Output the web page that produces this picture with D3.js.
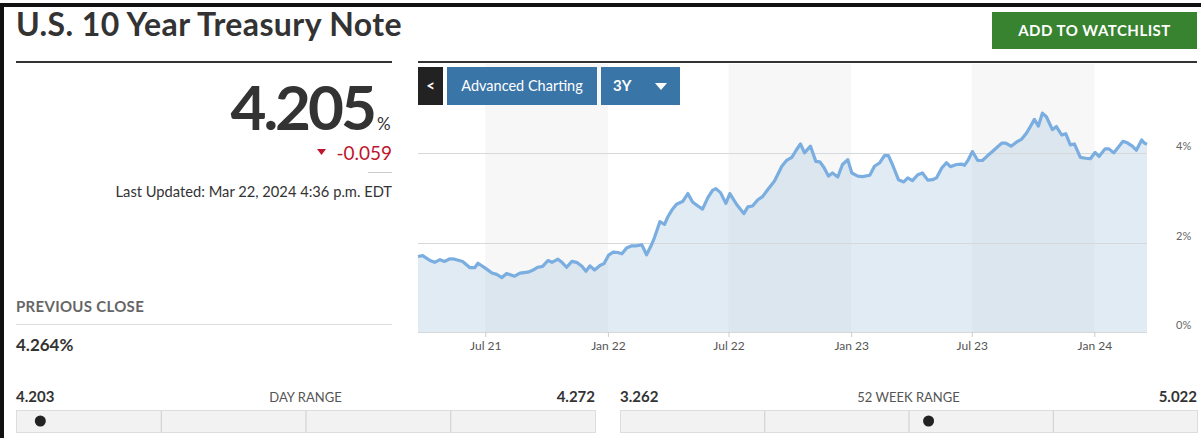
<!DOCTYPE html>
<html>
<head>
<meta charset="utf-8">
<script src="https://cdn.jsdelivr.net/npm/d3@7"></script>
<style>
  body { margin: 0; background: #fff; }
  svg { display: block; font-family: Lato, "Open Sans", sans-serif; }
</style>
</head>
<body>
<div id="myviz"></div>
<script>
const w = 1201;
const h = 438;

// 3 year history of the 10 year yield (%)
const dates = [
  "2021-03-22","2021-03-29","2021-04-09","2021-04-16","2021-04-24","2021-05-01","2021-05-09","2021-05-16",
  "2021-05-28","2021-06-08","2021-06-15","2021-06-20","2021-07-01","2021-07-11","2021-07-18","2021-07-26",
  "2021-08-02","2021-08-14","2021-08-22","2021-09-03","2021-09-10","2021-09-18","2021-09-25","2021-10-03",
  "2021-10-09","2021-10-18","2021-10-24","2021-10-31","2021-11-08","2021-11-15","2021-11-23","2021-11-29",
  "2021-12-05","2021-12-12","2021-12-20","2021-12-26","2022-01-02","2022-01-09","2022-01-16","2022-01-22",
  "2022-01-29","2022-02-06","2022-02-13","2022-02-21","2022-02-28","2022-03-08","2022-03-12","2022-03-20",
  "2022-03-27","2022-04-01","2022-04-07","2022-04-14","2022-04-23","2022-05-01","2022-05-08","2022-05-16",
  "2022-05-23","2022-05-31","2022-06-07","2022-06-12","2022-06-19","2022-06-27","2022-07-03","2022-07-13",
  "2022-07-24","2022-07-30","2022-08-06","2022-08-14","2022-08-21","2022-08-29","2022-09-08","2022-09-19",
  "2022-09-26","2022-10-04","2022-10-11","2022-10-17","2022-10-23","2022-11-01","2022-11-09","2022-11-15",
  "2022-11-21","2022-11-28","2022-12-04","2022-12-12","2022-12-19","2022-12-27","2023-01-02","2023-01-11",
  "2023-01-18","2023-01-29","2023-02-05","2023-02-13","2023-02-20","2023-02-26","2023-03-04","2023-03-13",
  "2023-03-21","2023-03-27","2023-04-03","2023-04-11","2023-04-18","2023-04-26","2023-05-03","2023-05-09",
  "2023-05-17","2023-05-24","2023-05-30","2023-06-08","2023-06-16","2023-06-20","2023-06-26","2023-07-02",
  "2023-07-10","2023-07-17","2023-07-25","2023-08-01","2023-08-15","2023-08-21","2023-08-29","2023-09-06",
  "2023-09-14","2023-09-21","2023-09-27","2023-10-03","2023-10-09","2023-10-15","2023-10-21","2023-10-30",
  "2023-11-05","2023-11-13","2023-11-19","2023-11-26","2023-12-02","2023-12-11","2023-12-19","2023-12-26",
  "2024-01-02","2024-01-08","2024-01-17","2024-01-23","2024-01-30","2024-02-05","2024-02-13","2024-02-20",
  "2024-02-27","2024-03-04","2024-03-12","2024-03-16","2024-03-20"
];
const yields = [
  1.69,1.71,1.60,1.56,1.62,1.58,1.64,1.63,
  1.58,1.44,1.44,1.54,1.43,1.32,1.29,1.22,
  1.31,1.25,1.32,1.34,1.38,1.45,1.47,1.60,
  1.56,1.63,1.56,1.45,1.58,1.56,1.47,1.36,
  1.48,1.39,1.49,1.53,1.72,1.79,1.78,1.75,
  1.88,1.93,1.93,1.95,1.73,1.97,2.12,2.47,
  2.41,2.58,2.73,2.86,2.92,3.10,2.91,2.82,
  2.75,3.01,3.17,3.21,3.12,2.88,3.10,2.86,
  2.65,2.80,2.82,2.96,3.03,3.19,3.38,3.71,
  3.84,3.91,4.08,4.21,4.01,4.16,3.82,3.81,
  3.69,3.49,3.56,3.47,3.75,3.86,3.56,3.49,
  3.48,3.51,3.71,3.79,3.95,3.95,3.75,3.41,
  3.36,3.45,3.39,3.52,3.56,3.40,3.41,3.45,
  3.67,3.79,3.70,3.75,3.76,3.73,3.86,4.04,
  3.84,3.84,3.95,4.04,4.23,4.23,4.16,4.25,
  4.32,4.45,4.60,4.76,4.61,4.90,4.82,4.53,
  4.60,4.41,4.44,4.19,4.21,3.91,3.89,3.88,
  4.02,3.93,4.10,4.10,4.01,4.12,4.27,4.23,
  4.16,4.07,4.30,4.23,4.205
];

const xTicks = ["2021-07-01","2022-01-01","2022-07-01","2023-01-01","2023-07-01","2024-01-01"];
const yTicks = [0, 2, 4];
const bandStarts = ["2021-07-01","2022-07-01","2023-07-01"];
const bandEnds = ["2022-01-01","2023-01-01","2024-01-01"];

const lastValue = 4.205;
const change = -0.059;
const previousClose = 4.264;
const dayRange = [4.203, 4.272];
const weekRange = [3.262, 5.022];

const parse = d3.timeParse("%Y-%m-%d");
const series = dates.map((d, i) => ({date: parse(d), value: yields[i]}));

const svg = d3.select("#myviz")
              .append("svg")
              .attr("width", w)
              .attr("height", h);

// frame
svg.append("rect").attr("x", 0).attr("y", 3).attr("width", w).attr("height", 4).attr("fill", "#111");
svg.append("rect").attr("x", 0).attr("y", 3).attr("width", 4).attr("height", h - 3).attr("fill", "#111");

// left panel
svg.append("text")
   .attr("x", 16).attr("y", 36)
   .attr("font-size", 32).attr("font-weight", 700).attr("fill", "#333")
   .attr("letter-spacing", 0.4)
   .text("U.S. 10 Year Treasury Note");
svg.append("rect").attr("x", 16).attr("y", 61).attr("width", 376).attr("height", 2).attr("fill", "#333");

svg.append("text")
   .attr("x", 374).attr("y", 130)
   .attr("text-anchor", "end")
   .attr("font-size", 62).attr("font-weight", 700).attr("fill", "#333")
   .attr("letter-spacing", -3)
   .text(lastValue.toFixed(3));
svg.append("text")
   .attr("x", 377).attr("y", 130)
   .attr("font-size", 17).attr("fill", "#333")
   .text("%");

svg.append("text")
   .attr("x", 392).attr("y", 160)
   .attr("text-anchor", "end")
   .attr("font-size", 19).attr("fill", "#c0152f")
   .text(change.toFixed(3));
svg.append("path")
   .attr("d", "M317,149 L326,149 L321.5,155 Z")
   .attr("fill", "#c0152f");
svg.append("rect").attr("x", 368).attr("y", 172).attr("width", 24).attr("height", 1).attr("fill", "#ccc");

svg.append("text")
   .attr("x", 392).attr("y", 197)
   .attr("text-anchor", "end")
   .attr("font-size", 14.7).attr("fill", "#333")
   .text("Last Updated: Mar 22, 2024 4:36 p.m. EDT");

svg.append("text")
   .attr("x", 16).attr("y", 312)
   .attr("font-size", 15).attr("font-weight", 700).attr("fill", "#666")
   .attr("letter-spacing", 0.3)
   .text("PREVIOUS CLOSE");
svg.append("rect").attr("x", 16).attr("y", 324).attr("width", 376).attr("height", 1).attr("fill", "#ddd");
svg.append("text")
   .attr("x", 16).attr("y", 351)
   .attr("font-size", 17).attr("font-weight", 700).attr("fill", "#333")
   .text(previousClose.toFixed(3) + "%");

// range bars
function rangeBar(x0, width, range, label) {
  const g = svg.append("g");
  const pos = d3.scaleLinear().domain(range).range([x0 + 8, x0 + width - 8]).clamp(true);
  g.append("text").attr("x", x0).attr("y", 402)
   .attr("font-size", 15).attr("font-weight", 700).attr("fill", "#333")
   .text(range[0].toFixed(3));
  g.append("text").attr("x", x0 + width).attr("y", 402).attr("text-anchor", "end")
   .attr("font-size", 15).attr("font-weight", 700).attr("fill", "#333")
   .text(range[1].toFixed(3));
  g.append("text").attr("x", x0 + width / 2).attr("y", 402).attr("text-anchor", "middle")
   .attr("font-size", 13).attr("fill", "#555")
   .text(label);
  g.append("rect").attr("x", x0 + 0.5).attr("y", 410.5).attr("width", width).attr("height", 22)
   .attr("fill", "#f2f2f2").attr("stroke", "#ddd");
  g.selectAll("line")
   .data([1, 2, 3])
   .enter()
   .append("line")
   .attr("x1", d => x0 + width * d / 4 + 0.5)
   .attr("x2", d => x0 + width * d / 4 + 0.5)
   .attr("y1", 411).attr("y2", 432)
   .attr("stroke", "#ccc");
  g.append("circle").attr("cx", pos(lastValue)).attr("cy", 421).attr("r", 5.5).attr("fill", "#222");
}
rangeBar(16, 579, dayRange, "DAY RANGE");
rangeBar(620, 577, weekRange, "52 WEEK RANGE");

// chart
const x = d3.scaleTime()
            .domain([parse("2021-03-22"), parse("2024-03-20")])
            .range([418, 1147]);
const y = d3.scaleLinear()
            .domain([0, 6])
            .range([332, 64]);

svg.append("rect").attr("x", 418).attr("y", 61).attr("width", 779).attr("height", 2).attr("fill", "#333");

svg.selectAll("rect.band")
   .data(bandStarts)
   .enter()
   .append("rect")
   .attr("class", "band")
   .attr("x", d => x(parse(d)))
   .attr("y", y(6))
   .attr("width", (d, i) => x(parse(bandEnds[i])) - x(parse(d)))
   .attr("height", y(0) - y(6))
   .attr("fill", "#f7f7f7");

const area = d3.area()
               .x(d => x(d.date))
               .y0(y(0))
               .y1(d => y(d.value));
svg.append("path")
   .datum(series)
   .attr("d", area)
   .attr("fill", "#a9c6dd")
   .attr("fill-opacity", 0.35);

svg.selectAll("line.grid")
   .data(yTicks)
   .enter()
   .append("line")
   .attr("class", "grid")
   .attr("x1", 418).attr("x2", 1147)
   .attr("y1", d => Math.round(y(d)) + 0.5)
   .attr("y2", d => Math.round(y(d)) + 0.5)
   .attr("stroke", "#d6d9dc");

const line = d3.line()
               .x(d => x(d.date))
               .y(d => y(d.value));
svg.append("path")
   .datum(series)
   .attr("d", line)
   .attr("fill", "none")
   .attr("stroke", "#7aade0")
   .attr("stroke-width", 3.2)
   .attr("stroke-linejoin", "round");

const xAxis = svg.append("g")
   .attr("transform", "translate(0,332)")
   .call(d3.axisBottom(x)
           .tickValues(xTicks.map(parse))
           .tickFormat(d3.timeFormat("%b %y"))
           .tickSize(5)
           .tickPadding(4));
xAxis.select(".domain").remove();
xAxis.selectAll(".tick line").attr("stroke", "#ccc");
xAxis.selectAll(".tick text").attr("font-size", 12).attr("fill", "#555").attr("font-family", "Lato");

const yAxis = svg.append("g")
   .attr("transform", "translate(1176,0)")
   .call(d3.axisRight(y)
           .tickValues(yTicks)
           .tickFormat(d => d + "%")
           .tickSize(0)
           .tickPadding(0));
yAxis.select(".domain").remove();
yAxis.selectAll(".tick text").attr("y", -7).attr("font-size", 11).attr("fill", "#666").attr("font-family", "Lato");

// buttons
svg.append("rect").attr("x", 418).attr("y", 67).attr("width", 25).attr("height", 38).attr("fill", "#222");
svg.append("text").attr("x", 430.5).attr("y", 91).attr("text-anchor", "middle")
   .attr("font-size", 15).attr("font-weight", 700).attr("fill", "#fff").text("<");

svg.append("rect").attr("x", 447).attr("y", 67).attr("width", 150).attr("height", 38).attr("fill", "#3a75a8");
svg.append("text").attr("x", 522).attr("y", 91).attr("text-anchor", "middle")
   .attr("font-size", 14.5).attr("fill", "#fff").text("Advanced Charting");

svg.append("rect").attr("x", 601).attr("y", 67).attr("width", 79).attr("height", 38).attr("fill", "#3a75a8");
svg.append("text").attr("x", 613).attr("y", 91)
   .attr("font-size", 15).attr("font-weight", 700).attr("fill", "#fff").text("3Y");
svg.append("path").attr("d", "M655,83 L667,83 L661,90 Z").attr("fill", "#fff");

svg.append("rect").attr("x", 992).attr("y", 12).attr("width", 205).attr("height", 37).attr("fill", "#37832f");
svg.append("text").attr("x", 1094.5).attr("y", 36).attr("text-anchor", "middle")
   .attr("font-size", 15).attr("font-weight", 700).attr("fill", "#fff")
   .attr("letter-spacing", 0.5)
   .text("ADD TO WATCHLIST");
</script>
</body>
</html>
